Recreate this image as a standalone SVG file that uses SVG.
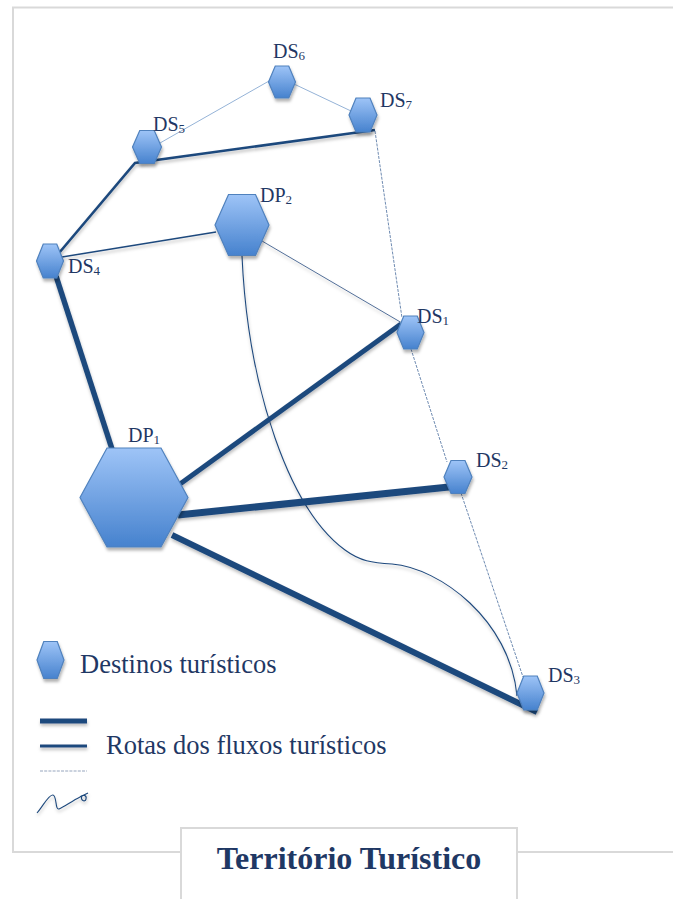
<svg xmlns="http://www.w3.org/2000/svg" width="673" height="899" viewBox="0 0 673 899">
  <defs>
    <linearGradient id="hexFill" x1="0" y1="0" x2="0" y2="1">
      <stop offset="0" stop-color="#9EC4F7"/>
      <stop offset="1" stop-color="#4682CE"/>
    </linearGradient>
    <filter id="shadow" x="-30%" y="-30%" width="160%" height="160%">
      <feDropShadow dx="1" dy="3" stdDeviation="1.8" flood-color="#000" flood-opacity="0.3"/>
    </filter>
    <filter id="lineShadow" filterUnits="userSpaceOnUse" x="0" y="0" width="673" height="899">
      <feDropShadow dx="0.5" dy="2.5" stdDeviation="1.5" flood-color="#000" flood-opacity="0.25"/>
    </filter>
  </defs>
  <style>
    .frame { fill: none; stroke: #D9D9D9; stroke-width: 2; }
    .titlebox { fill: #FFFFFF; stroke: #D9D9D9; stroke-width: 2; }
    .hex { fill: url(#hexFill); stroke: #4F81BD; stroke-width: 1.2; filter: url(#shadow); }
    .route { fill: none; stroke: #1F497D; filter: url(#lineShadow); }
    .thick { stroke-width: 6; }
    .medium { stroke-width: 2.6; }
    .thin { stroke-width: 1.4; }
    .fine { stroke-width: 0.9; stroke: #3F5F8C; }
    .curve { stroke-width: 1.1; }
    .light { fill: none; stroke: #95B3D7; stroke-width: 1; }
    .dotted { fill: none; stroke: #5F7EA8; stroke-width: 0.9; stroke-dasharray: 3 1.2; }
    .label { font-family: "Liberation Serif", "Times New Roman", serif; font-size: 20px; fill: #1F3864; }
    .sub { font-size: 13px; }
    .legend { font-family: "Liberation Serif", "Times New Roman", serif; font-size: 26.5px; fill: #1F3864; }
    .title { font-family: "Liberation Serif", "Times New Roman", serif; font-size: 32px; font-weight: bold; fill: #1F3864; }
  </style>

  <!-- outer frame and title box -->
  <rect class="frame" x="13" y="7.5" width="690" height="844.5"/>
  <rect class="titlebox" x="181" y="828" width="336" height="90"/>
  <text class="title" x="349" y="869" text-anchor="middle">Território Turístico</text>

  <!-- routes between destinations -->
  <g id="connectors">
    <path class="light" d="M160,143 L269,81"/>
    <path class="light" d="M294,84 L351,111"/>
    <path class="dotted" d="M375,131 L402,318"/>
    <path class="dotted" d="M411,349 L447,462"/>
    <path class="dotted" d="M461,493 L523,677"/>
    <path class="route fine" d="M262,241 L402,323"/>
    <path class="route thin" d="M62,257 L216,232"/>
    <path class="route medium" d="M59,253 L135,163 L375,130"/>
    <path class="route curve" d="M242,256 C248,390 290,510 345,550 C360,561 372,563 392,564 C440,568 510,620 517,696"/>
    <path class="route thick" style="stroke-width:5.5" d="M56,276 L112,449"/>
    <path class="route thick" style="stroke-width:5" d="M180,484 L401,324"/>
    <path class="route thick" style="stroke-width:7" d="M178,515 L449,487"/>
    <path class="route thick" d="M172,535 L537,712"/>
  </g>

  <!-- destinations -->
  <g id="DS6">
    <polygon class="hex" points="268.5,82 275.25,66 288.75,66 295.5,82 288.75,98 275.25,98"/>
    <text class="label" x="273" y="58">DS<tspan class="sub" dy="2">6</tspan></text>
  </g>
  <g id="DS7">
    <polygon class="hex" points="349,115 356,98 370,98 377,115 370,132 356,132"/>
    <text class="label" x="380" y="107">DS<tspan class="sub" dy="2">7</tspan></text>
  </g>
  <g id="DS5">
    <polygon class="hex" points="132.5,147 139.75,130.5 154.25,130.5 161.5,147 154.25,163.5 139.75,163.5"/>
    <text class="label" x="153" y="131">DS<tspan class="sub" dy="2">5</tspan></text>
  </g>
  <g id="DS4">
    <polygon class="hex" points="36.5,261 43.25,244 56.75,244 63.5,261 56.75,278 43.25,278"/>
    <text class="label" x="68" y="273">DS<tspan class="sub" dy="2">4</tspan></text>
  </g>
  <g id="DP2">
    <polygon class="hex" points="215,225 228.5,194.5 255.5,194.5 269,225 255.5,255.5 228.5,255.5"/>
    <text class="label" x="260" y="202">DP<tspan class="sub" dy="2">2</tspan></text>
  </g>
  <g id="DS1">
    <polygon class="hex" points="397,332.5 403.75,316 417.25,316 424,332.5 417.25,349 403.75,349"/>
    <text class="label" x="417" y="323">DS<tspan class="sub" dy="2">1</tspan></text>
  </g>
  <g id="DP1">
    <polygon class="hex" points="80,497.5 107,448 161,448 188,497.5 161,547 107,547"/>
    <text class="label" x="128" y="442">DP<tspan class="sub" dy="2">1</tspan></text>
  </g>
  <g id="DS2">
    <polygon class="hex" points="444,477 451,460.5 465,460.5 472,477 465,493.5 451,493.5"/>
    <text class="label" x="476" y="467">DS<tspan class="sub" dy="2">2</tspan></text>
  </g>
  <g id="DS3">
    <polygon class="hex" points="517,693 523.75,676 537.25,676 544,693 537.25,710 523.75,710"/>
    <text class="label" x="548" y="682">DS<tspan class="sub" dy="2">3</tspan></text>
  </g>

  <!-- legend -->
  <g id="legend">
    <polygon class="hex" points="37,660 43.75,641.5 57.25,641.5 64,660 57.25,678.5 43.75,678.5"/>
    <text class="legend" x="80" y="673">Destinos turísticos</text>
    <path class="route" style="stroke-width:5" d="M40,721 L87,721"/>
    <path class="route" style="stroke-width:3" d="M40,746 L87,746"/>
    <path class="dotted" style="stroke:#8A9BB5" d="M40,771 L87,771"/>
    <text class="legend" x="106" y="754">Rotas dos fluxos turísticos</text>
    <path class="route" style="stroke-width:1.1" d="M37,813 C43,806 49,794 53,795 C57,796 55,810 59,809 C64,807 72,801 80,797 C83,794 87,795 86,799 C85,803 80,800 82,796 L88,793"/>
  </g>
</svg>
